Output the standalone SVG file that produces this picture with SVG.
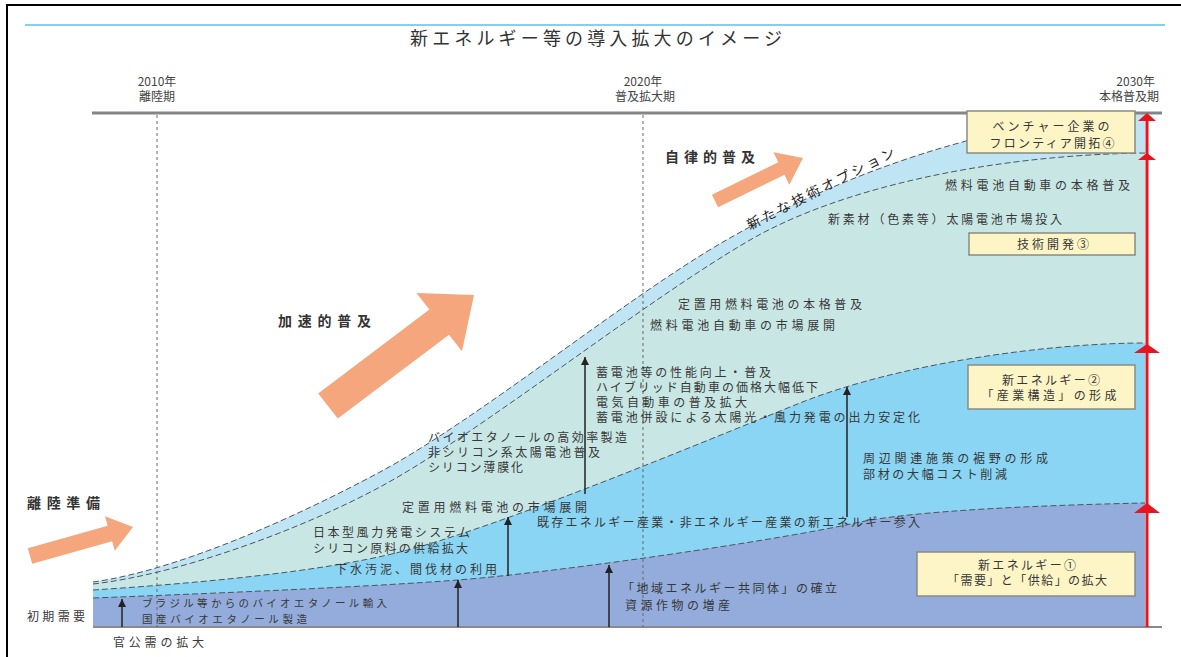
<svg xmlns="http://www.w3.org/2000/svg" width="1181" height="657" viewBox="0 0 1181 657">
<style>
.t{font-family:"Noto Sans CJK JP","Noto Sans",sans-serif;font-size:12px;fill:#383838}
.s{font-size:10.5px}
.b{font-family:"Noto Sans CJK JP","Noto Sans",sans-serif;font-size:14px;font-weight:bold;fill:#333}
.y{font-family:"Noto Sans CJK JP","Noto Sans",sans-serif;font-size:12px;fill:#444}
.bx{fill:#fdf5c6;stroke:#8a8a82;stroke-width:1.5}
.bd{fill:none;stroke:#4a5560;stroke-width:1;stroke-dasharray:6 3}
.dot{stroke:#666;stroke-width:1;stroke-dasharray:3 3}
.oa{fill:#f5a67c}
.ba{stroke:#222;stroke-width:1.5;marker-end:url(#ah)}
.rh{fill:#e8141f}
</style>
<defs>
<marker id="ah" viewBox="0 0 10 10" refX="10" refY="5" markerWidth="8" markerHeight="8" markerUnits="userSpaceOnUse" orient="auto"><path d="M0,0 L10,5 L0,10 z" fill="#222"/></marker>
</defs>
<rect x="0" y="0" width="1181" height="657" fill="#fff"/>
<g id="frame">
<path d="M7,657 L7,5 L1181,5" fill="none" stroke="#000" stroke-width="2"/>
<line x1="25" y1="25" x2="1165" y2="25" stroke="#86d0ee" stroke-width="2"/>
</g>
<g id="title"><text class="t" x="410" y="45" textLength="372" lengthAdjust="spacing" style="font-size:18px;fill:#333">新エネルギー等の導入拡大のイメージ</text></g>
<g id="axis-labels">
<text class="y" x="157" y="86" text-anchor="middle">2010年</text>
<text class="y" x="157" y="101" text-anchor="middle">離陸期</text>
<text class="y" x="643" y="86" text-anchor="middle">2020年</text>
<text class="y" x="645" y="101" text-anchor="middle">普及拡大期</text>
<text class="y" x="1155" y="86" text-anchor="end">2030年</text>
<text class="y" x="1159" y="101" text-anchor="end">本格普及期</text>
</g>
<g id="areas">
<path id="area-option" d="M93,582 C180,570 300,515 380,472 C480,418 623,300 723,242 C843,172 1000,118 1145,113 L1145,627 L93,627 Z" fill="#bfe4f3"/>
<path id="area-tech" d="M93,584 C180,574 300,530 380,487 C480,433 640,304 750,240 C840,188 990,155 1145,153 L1145,627 L93,627 Z" fill="#c8e7e4"/>
<path id="area-industry" d="M93,590 C200,583 320,572 400,552 C500,527 700,443 800,403 C900,363 1050,343 1145,343 L1145,627 L93,627 Z" fill="#8ad4f4"/>
<path id="area-demand" d="M93,598 C250,592 380,586 458,580 C560,572 780,540 860,522 C920,510 1050,505 1145,503 L1145,627 L93,627 Z" fill="#93acdb"/>
<path class="bd" d="M93,582 C180,570 300,515 380,472 C480,418 623,300 723,242 C843,172 1000,118 1145,113"/>
<path class="bd" d="M93,584 C180,574 300,530 380,487 C480,433 640,304 750,240 C840,188 990,155 1145,153"/>
<path class="bd" d="M93,590 C200,583 320,572 400,552 C500,527 700,443 800,403 C900,363 1050,343 1145,343"/>
<path class="bd" d="M93,598 C250,592 380,586 458,580 C560,572 780,540 860,522 C920,510 1050,505 1145,503"/>
</g>
<g id="grid">
<line x1="92" y1="113" x2="1162" y2="113" stroke="#858585" stroke-width="3"/>
<line x1="93" y1="627" x2="1162" y2="627" stroke="#8a8a8a" stroke-width="2"/>
<line class="dot" x1="157" y1="115" x2="157" y2="627"/>
<line class="dot" x1="643" y1="115" x2="643" y2="627"/>
</g>
<g id="phase-arrows">
<polygon class="oa" points="27.8,548.3 107.7,525.8 105,516.2 133,527 114.8,550.8 112.1,541.2 32.2,563.7"/>
<polygon class="oa" points="318.2,393.4 429.4,309.5 416.4,292.9 474,295 462,351.3 449,334.7 337.8,418.6"/>
<polygon class="oa" points="711.9,194.7 778.3,162.2 773.5,152.3 803,158 789.3,184.7 784.5,174.8 718.1,207.3"/>
</g>
<g id="connectors">
<line class="ba" x1="122" y1="627" x2="122" y2="599"/>
<line class="ba" x1="458" y1="627" x2="458" y2="580"/>
<line class="ba" x1="508" y1="576" x2="508" y2="517"/>
<line class="ba" x1="609" y1="627" x2="609" y2="565"/>
<line class="ba" x1="585" y1="494" x2="585" y2="357"/>
<line class="ba" x1="847" y1="517" x2="847" y2="387"/>
<g id="red-axis">
<line x1="1147" y1="627" x2="1147" y2="118" stroke="#e8141f" stroke-width="3"/>
<path class="rh" d="M1147,113 L1156,121 L1138,121 Z"/>
<path class="rh" d="M1147,153 L1156,160 L1138,160 Z"/>
<path class="rh" d="M1147,344 L1160,353 L1134,353 Z"/>
<path class="rh" d="M1147,503 L1160,513 L1134,513 Z"/>
</g>
</g>
<g id="box4"><rect class="bx" x="967" y="111" width="168" height="42"/>
<text class="t" x="1051" y="131" text-anchor="middle" textLength="117" lengthAdjust="spacing">ベンチャー企業の</text>
<text class="t" x="1052" y="148" text-anchor="middle" textLength="125" lengthAdjust="spacing">フロンティア開拓④</text></g>
<g id="box3"><rect class="bx" x="969" y="233" width="166" height="22"/>
<text class="t" x="1053" y="248.5" text-anchor="middle" textLength="72" lengthAdjust="spacing">技術開発③</text></g>
<g id="box2"><rect class="bx" x="968" y="365" width="167" height="44"/>
<text class="t" x="1051" y="384.5" text-anchor="middle" textLength="98" lengthAdjust="spacing">新エネルギー②</text>
<text class="t" x="1049" y="399.5" text-anchor="middle" textLength="135" lengthAdjust="spacing">「産業構造」の形成</text></g>
<g id="box1"><rect class="bx" x="917" y="552" width="218" height="44"/>
<text class="t" x="1027" y="569.5" text-anchor="middle" textLength="98" lengthAdjust="spacing">新エネルギー①</text>
<text class="t" x="1027" y="585" text-anchor="middle" textLength="160" lengthAdjust="spacing">「需要」と「供給」の拡大</text></g>
<g id="phase-labels">
<text class="b" x="27" y="508" textLength="73" lengthAdjust="spacing">離陸準備</text>
<text class="b" x="278" y="326" textLength="93" lengthAdjust="spacing">加速的普及</text>
<text class="b" x="665" y="162" textLength="90" lengthAdjust="spacing">自律的普及</text>
<text class="t" transform="translate(750,230) rotate(-27)" textLength="164" lengthAdjust="spacing" style="font-size:13.5px;fill:#222">新たな技術オプション</text>
</g>
<g id="labels-tech">
<text class="t" x="945" y="189.5" textLength="185" lengthAdjust="spacing">燃料電池自動車の本格普及</text>
<text class="t" x="828" y="223.5" textLength="234" lengthAdjust="spacing">新素材（色素等）太陽電池市場投入</text>
<text class="t" x="678" y="308.5" textLength="184" lengthAdjust="spacing">定置用燃料電池の本格普及</text>
<text class="t" x="650" y="329.5" textLength="185" lengthAdjust="spacing">燃料電池自動車の市場展開</text>
<text class="t" x="596" y="376.5" textLength="175" lengthAdjust="spacing">蓄電池等の性能向上・普及</text>
<text class="t" x="596" y="391.5" textLength="222" lengthAdjust="spacing">ハイブリッド自動車の価格大幅低下</text>
<text class="t" x="596" y="406.5" textLength="151" lengthAdjust="spacing">電気自動車の普及拡大</text>
<text class="t" x="596" y="421.5" textLength="324" lengthAdjust="spacing">蓄電池併設による太陽光・風力発電の出力安定化</text>
<text class="t" x="428" y="441.5" textLength="199" lengthAdjust="spacing">バイオエタノールの高効率製造</text>
<text class="t" x="428" y="456.5" textLength="172" lengthAdjust="spacing">非シリコン系太陽電池普及</text>
<text class="t" x="428" y="471.5" textLength="95" lengthAdjust="spacing">シリコン薄膜化</text>
<text class="t" x="402" y="511.5" textLength="185" lengthAdjust="spacing">定置用燃料電池の市場展開</text>
<text class="t" x="313" y="536.5" textLength="157" lengthAdjust="spacing">日本型風力発電システム</text>
<text class="t" x="313" y="552.5" textLength="155" lengthAdjust="spacing">シリコン原料の供給拡大</text>
</g>
<g id="labels-industry">
<text class="t" x="863" y="462.5" textLength="185" lengthAdjust="spacing">周辺関連施策の裾野の形成</text>
<text class="t" x="863" y="478.5" textLength="144" lengthAdjust="spacing">部材の大幅コスト削減</text>
<text class="t" x="537" y="526.5" textLength="383" lengthAdjust="spacing">既存エネルギー産業・非エネルギー産業の新エネルギー参入</text>
<text class="t" x="335" y="573.5" textLength="162" lengthAdjust="spacing">下水汚泥、間伐材の利用</text>
</g>
<g id="labels-demand">
<text class="t" x="622" y="592.5" textLength="215" lengthAdjust="spacing">「地域エネルギー共同体」の確立</text>
<text class="t" x="625" y="609.5" textLength="105" lengthAdjust="spacing">資源作物の増産</text>
<text class="t s" x="142" y="607" textLength="245" lengthAdjust="spacing">ブラジル等からのバイオエタノール輸入</text>
<text class="t s" x="142" y="622.5" textLength="165" lengthAdjust="spacing">国産バイオエタノール製造</text>
<text class="t" x="27" y="620.5" textLength="58" lengthAdjust="spacing">初期需要</text>
<text class="t" x="113" y="647" textLength="91" lengthAdjust="spacing">官公需の拡大</text>
</g>
</svg>
